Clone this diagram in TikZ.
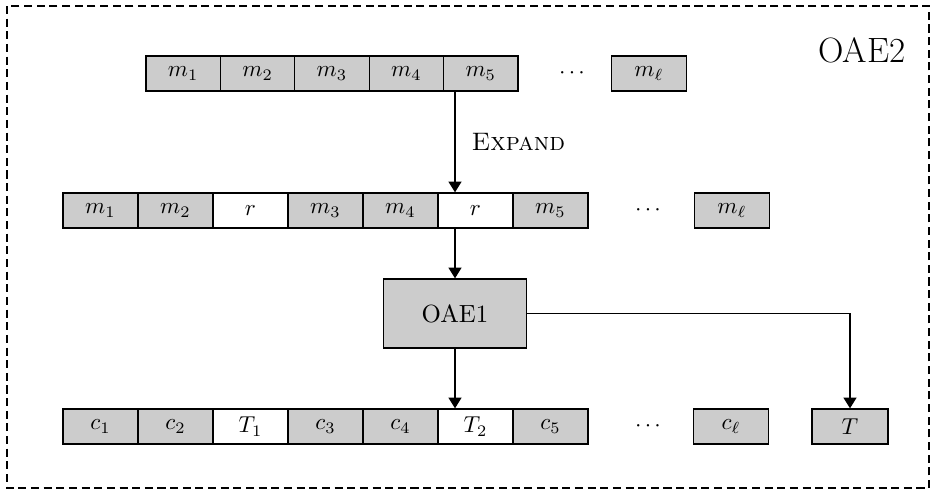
\documentclass[tikz,border=0pt]{standalone}
\usetikzlibrary{arrows.meta}
\newcommand{\mydots}{${\cdot}\mkern2.5mu{\cdot}\mkern2.5mu{\cdot}$}
\begin{document}
\begin{tikzpicture}[x=0.4348pt,y=-0.4348pt,
  cellA/.style={draw, line width=0.6pt, fill=black!20, inner sep=0pt, minimum width=32.35pt, minimum height=15.22pt},
  cell/.style={draw, line width=0.6pt, fill=black!20, inner sep=0pt, minimum width=32.61pt, minimum height=15.22pt},
  wcell/.style={cell, fill=white},
  arr/.style={-{Triangle[length=4.6pt,width=5.6pt]}, line width=0.5pt},
  dots/.style={inner sep=0pt}]
\useasboundingbox (0,0) rectangle (935,490);
\draw[line width=0.5pt, dash pattern=on 3.5pt off 2pt] (7,6) rectangle (929,488);
\node[anchor=base, inner sep=0pt, font=\fontsize{15.3}{18}\selectfont] (title) at (862,62) {OAE2};
% top row
\node[cellA] (a1) at (183.2,73.5) {$m_1$};
\node[cellA] (a2) at (257.6,73.5) {$m_2$};
\node[cellA] (a3) at (332.0,73.5) {$m_3$};
\node[cellA] (a4) at (406.4,73.5) {$m_4$};
\node[cellA] (a5) at (480.8,73.5) {$m_5$};
\node[dots] (ad) at (572,73.5) {\mydots};
\node[cellA] (al) at (649,73.5) {$m_\ell$};
% second row
\node[cell] (b1) at (100.5,210.5) {$m_1$};
\node[cell] (b2) at (175.5,210.5) {$m_2$};
\node[wcell] (b3) at (250.5,210.5) {$r$};
\node[cell] (b4) at (325.5,210.5) {$m_3$};
\node[cell] (b5) at (400.5,210.5) {$m_4$};
\node[wcell] (b6) at (475.5,210.5) {$r$};
\node[cell] (b7) at (550.5,210.5) {$m_5$};
\node[dots] (bd) at (648,210.5) {\mydots};
\node[cell] (bl) at (732,210.5) {$m_\ell$};
% OAE1
\node[draw, line width=0.6pt, fill=black!20, inner sep=0pt, minimum width=62.2pt, minimum height=30pt, font=\fontsize{10.8}{13}\selectfont] (oae) at (455,313.5) {OAE1};
% third row
\node[cell] (c1) at (100.5,426.5) {$c_1$};
\node[cell] (c2) at (175.5,426.5) {$c_2$};
\node[wcell] (c3) at (250.5,426.5) {$T_1$};
\node[cell] (c4) at (325.5,426.5) {$c_3$};
\node[cell] (c5) at (400.5,426.5) {$c_4$};
\node[wcell] (c6) at (475.5,426.5) {$T_2$};
\node[cell] (c7) at (550.5,426.5) {$c_5$};
\node[dots] (cd) at (648,426.5) {\mydots};
\node[cell] (cl) at (731,426.5) {$c_\ell$};
\node[cell, minimum width=33.05pt] (tag) at (850,426.5) {$T$};
% connectors
\draw[arr] (a5.south -| oae.north) -- (b6.north -| oae.north)
  node[pos=0.5, right=7pt, inner sep=0pt, font=\fontsize{11}{13}\selectfont] (lblexp) {\textsc{Expand}};
\draw[arr] (b6.south -| oae.north) -- (oae.north);
\draw[arr] (oae.south) -- (c6.north -| oae.south);
\draw[arr] (oae.east) -| (tag.north);
\end{tikzpicture}
\end{document}
